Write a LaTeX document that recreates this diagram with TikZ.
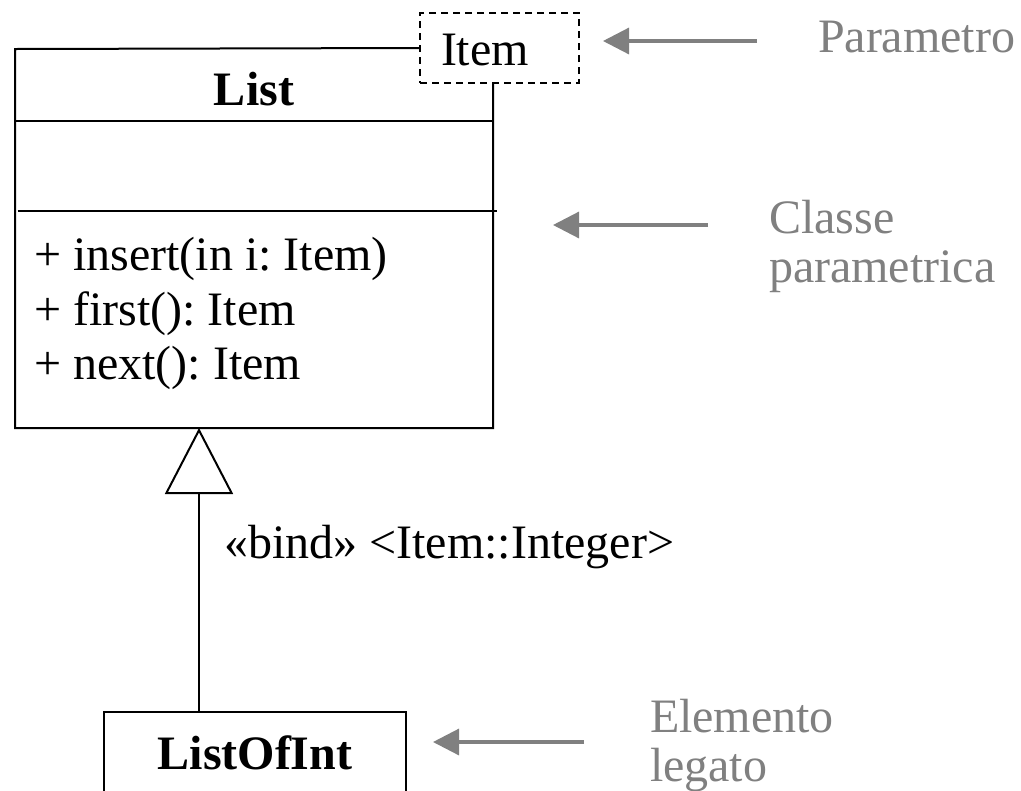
\documentclass[tikz,border=0pt]{standalone}
\usepackage{fontspec}
\setmainfont{Liberation Serif}
\usetikzlibrary{arrows.meta}
\definecolor{notegray}{RGB}{128,128,128}
\frenchspacing
\begin{document}
\begin{tikzpicture}[x=0.75pt,y=-0.75pt,
  every node/.style={inner sep=0pt, outer sep=0pt, font=\fontsize{36}{44}\selectfont},
  umlline/.style={line width=1.5pt, draw=black},
  parambox/.style={draw=black, line width=1.5pt, dash pattern=on 5.5pt off 3.5pt},
  note/.style={text=notegray, anchor=base west},
  pointer/.style={draw=notegray, line width=2.4pt, -{Triangle[length=19.5pt,width=19.5pt]}},
  gen/.style={umlline, -{Triangle[open,length=49.5pt,width=51pt,line width=1.5pt]}},
]
\clip (0,0) rectangle (1021,790);
\fill[white] (0,0) rectangle (1021,790);

% template parameter of the class
\node[parambox, minimum width=119.25pt, minimum height=52.5pt] (param) at (499.5,48) {};
\node[anchor=base west] (paramtxt) at (441,65) {Item};

% parametric class List
\node[minimum width=358.5pt, minimum height=284.25pt] (list) at (254,238.5) {};
\draw[umlline] (param.west) -- (list.north west) -- (list.south west)
  -- (list.south east) -- (list.east |- param.south);
\coordinate (sep1) at (0,121);
\coordinate (sep2) at (0,211);
\draw[umlline] (list.west |- sep1) -- (list.east |- sep1);
\draw[umlline] ([xshift=2pt]list.west |- sep2) -- ([xshift=3pt]list.east |- sep2);
\node[anchor=base] (listname) at (254,105) {\textbf{List}};
\node[anchor=base west] (op1) at (34,270) {+ insert(in i: Item)};
\node[anchor=base west] (op2) at (34,325) {+ first(): Item};
\node[anchor=base west] (op3) at (34,379) {+ next(): Item};

% bound element
\node[umlline, draw, minimum width=226.5pt, minimum height=75pt] (loi) at (255,762) {};
\node[anchor=base] (loiname) at (255,769) {\textbf{ListOfInt}};

% binding relationship
\coordinate (gx) at (199,0);
\draw[gen] (loi.north -| gx) -- (list.south -| gx);
\node[anchor=base west] (bind) at (224,558) {«bind» <Item::Integer>};

% annotations
\node[note] (nparam) at (818,52) {Parametro};
\coordinate (a1tail) at (757,41);
\coordinate (a1tip) at (603,41);
\draw[pointer] (a1tail) -- (a1tip);

\node[note] (nclass1) at (769,233) {Classe};
\node[note] (nclass2) at (769,282) {parametrica};
\coordinate (a2tail) at (708,225);
\coordinate (a2tip) at (553,225);
\draw[pointer] (a2tail) -- (a2tip);

\node[note] (nbound1) at (650,732) {Elemento};
\node[note] (nbound2) at (650,781) {legato};
\coordinate (a3tail) at (584,742);
\coordinate (a3tip) at (433,742);
\draw[pointer] (a3tail) -- (a3tip);
\end{tikzpicture}
\end{document}
